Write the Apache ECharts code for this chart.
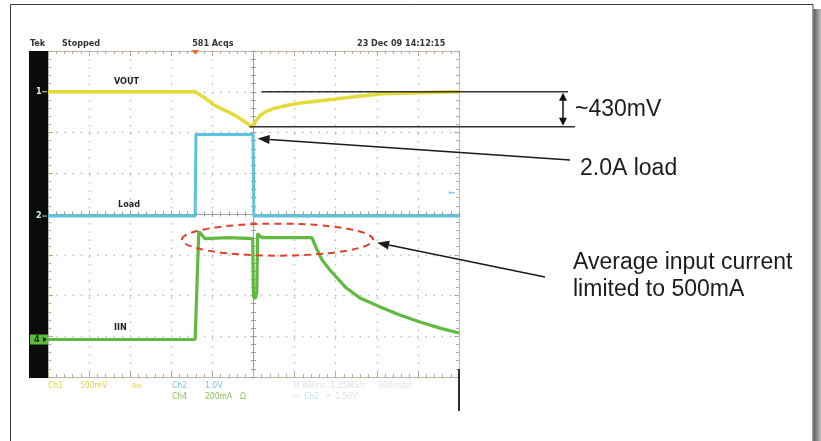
<!DOCTYPE html>
<html>
<head>
<meta charset="utf-8">
<script src="https://cdn.jsdelivr.net/npm/echarts@6/dist/echarts.min.js"></script>
<style>
  html, body { margin: 0; padding: 0; background: #ffffff; }
  #scope { width: 821px; height: 441px; }
</style>
</head>
<body>
<div id="scope"></div>
<script>
// Time in horizontal divisions, measured from the screen centre (10 divisions wide)
const voutTime = [-5, -1.42, -1.2, -1.0, -0.8, -0.6, -0.4, -0.2, -0.04, 0.05, 0.16, 0.3, 0.47, 0.7, 0.89, 1.2, 1.62, 2.0, 2.35, 2.8, 3.15, 3.98, 4.5, 5];
// Ch1 output voltage deviation, mV
const voutMilliVolts = [0, 0, -70, -150, -205, -250, -305, -370, -430, -360, -290, -245, -209, -180, -160, -135, -110, -88, -67, -42, -25, -12, -5, 0];

const loadTime = [-5, -1.42, -1.40, -0.01, 0.01, 5];
// Ch2 load step, V (probe scaled 1 V per A)
const loadVolts = [0, 0, 2.0, 2.0, 0, 0];

const iinTime = [-5, -1.42, -1.37, -1.33, -1.30, -1.18, -0.6, -0.02, 0.0, 0.04, 0.08, 0.10, 0.16, 0.25, 0.8, 1.42, 1.55, 1.67, 1.86, 2.23, 2.59, 3.08, 3.56, 4.05, 4.54, 5];
// Ch4 input current, mA
const iinMilliAmps = [0, 0, 300, 530, 530, 495, 500, 495, 210, 200, 230, 520, 505, 500, 500, 500, 439, 390, 341, 258, 204, 160, 120, 86, 56, 32];

// Channel scale (units per division) and marker position (divisions from centre)
const CH1 = { perDiv: 500, offset: 3.0 };
const CH2 = { perDiv: 1.0, offset: -0.05 };
const CH4 = { perDiv: 200, offset: -3.08 };

const headerTexts = ['Tek', 'Stopped', '581 Acqs', '23 Dec 09 14:12:15'];
const traceNames = ['VOUT', 'Load', 'IIN'];
const dipLabel = '~430mV';
const loadLabel = '2.0A load';
const limitLabel = ['Average input current', 'limited to 500mA'];
const iinLimit = 500;

const toDiv = (ch, v) => ch.offset + v / ch.perDiv;
const pairs = (ts, vs, ch) => ts.map((t, i) => [t, toDiv(ch, vs[i])]);

const chart = echarts.init(document.getElementById('scope'), null, { renderer: 'canvas' });

const edgeLine = '#c3b7aa';
const tickCol = '#b5a99c';
function axis(extra) {
  return Object.assign({
    type: 'value',
    interval: 1,
    axisLabel: { show: false },
    splitLine: { show: false },
    axisLine: { show: true, onZero: false, lineStyle: { color: edgeLine, width: 1 } },
    axisTick: { show: true, inside: true, length: 5, lineStyle: { color: tickCol } },
    minorTick: { show: true, splitNumber: 5, length: 3, lineStyle: { color: tickCol } }
  }, extra);
}
const dotted = { show: true, lineStyle: { color: '#b4b4b4', width: 1.3, type: [1.4, 6.8] } };
const centreLine = { show: true, onZero: true, onZeroAxisIndex: 0, lineStyle: { color: '#9d9d9d', width: 1 } };
const centreTick = { show: true, inside: false, length: 3, lineStyle: { color: '#9d9d9d' } };
const centreMinor = { show: true, splitNumber: 5, length: 2.5, lineStyle: { color: '#9d9d9d' } };

const xr = { min: -5, max: 5 };
const yr = { min: -4, max: 4 };

const lineSeries = (name, data, color, width) => ({
  name, type: 'line', data, showSymbol: false, silent: true, animation: false,
  lineStyle: { color, width }, itemStyle: { color }, z: 5, emphasis: { disabled: true }
});

chart.setOption({
  animation: false,
  backgroundColor: '#ffffff',
  grid: { left: 48, right: 362, top: 51, bottom: 64, containLabel: false, outerBoundsMode: 'none' },
  xAxis: [
    axis(Object.assign({ position: 'bottom', splitLine: dotted }, xr)),
    axis(Object.assign({ position: 'top' }, xr)),
    axis(Object.assign({ position: 'bottom', axisLine: centreLine, axisTick: centreTick, minorTick: centreMinor }, xr)),
    axis(Object.assign({ position: 'top', axisLine: centreLine, axisTick: centreTick, minorTick: centreMinor }, xr))
  ],
  yAxis: [
    axis(Object.assign({ position: 'left', splitLine: dotted }, yr)),
    axis(Object.assign({ position: 'right' }, yr)),
    axis(Object.assign({ position: 'left', axisLine: centreLine, axisTick: centreTick, minorTick: centreMinor }, yr)),
    axis(Object.assign({ position: 'right', axisLine: centreLine, axisTick: centreTick, minorTick: centreMinor }, yr))
  ],
  series: [
    lineSeries(traceNames[1], pairs(loadTime, loadVolts, CH2), '#5cc3dd', 3),
    lineSeries(traceNames[2], pairs(iinTime, iinMilliAmps, CH4), '#62b942', 3.2),
    lineSeries(traceNames[0], pairs(voutTime, voutMilliVolts, CH1), '#e3db3a', 3.5)
  ]
});

const px = (t, d) => chart.convertToPixel({ xAxisIndex: 0, yAxisIndex: 0 }, [t, d]);

// Graticule frame in pixels
const cornerTL = px(-5, 4), cornerBR = px(5, -4);
const gLeft = cornerTL[0], gTop = cornerTL[1], gRight = cornerBR[0], gBottom = cornerBR[1];

const small = (text, x, y, color, extra) => ({
  type: 'text', x, y, silent: true, z: 10,
  style: Object.assign({
    text, fill: color || '#222', font: 'bold 9px "Liberation Sans Narrow", "DejaVu Sans Condensed", Arial, sans-serif',
    verticalAlign: 'middle', align: 'left'
  }, extra || {})
});
const big = (text, x, y) => ({
  type: 'text', x, y, silent: true, z: 10,
  style: { text, fill: '#1c1c1c', font: '23px "Liberation Sans", Arial, sans-serif', verticalAlign: 'middle', align: 'left' }
});
function arrow(x1, y1, x2, y2, head, half, color, width) {
  const dx = x2 - x1, dy = y2 - y1, len = Math.hypot(dx, dy);
  const ux = dx / len, uy = dy / len;
  const bx = x2 - ux * head, by = y2 - uy * head;
  return [
    { type: 'line', silent: true, z: 10, shape: { x1, y1, x2: bx, y2: by }, style: { stroke: color, lineWidth: width } },
    { type: 'polygon', silent: true, z: 10, shape: { points: [[x2, y2], [bx - uy * half, by + ux * half], [bx + uy * half, by - ux * half]] }, style: { fill: color } }
  ];
}

const g = [];
// page frame and drop shadow
g.push({ type: 'rect', silent: true, z: 1, shape: { x: 10.5, y: 4.5, width: 802.5, height: 460 }, style: { fill: null, stroke: '#3c3c3c', lineWidth: 1 } });
g.push({ type: 'rect', silent: true, z: 1, shape: { x: 813.5, y: 9, width: 7.5, height: 432 },
  style: { fill: new echarts.graphic.LinearGradient(0, 0, 1, 0, [{ offset: 0, color: '#5c5c5c' }, { offset: 1, color: '#bdbdbd' }]) } });

// channel marker strip
g.push({ type: 'rect', silent: true, z: 2, shape: { x: gLeft - 19, y: gTop, width: 19, height: gBottom - gTop + 1 }, style: { fill: '#0b0b0b' } });
const m1 = px(-5, CH1.offset)[1], m2 = px(-5, CH2.offset)[1], m4 = px(-5, CH4.offset)[1];
g.push(small('1', gLeft - 12, m1, '#f4f1c8'));
g.push({ type: 'line', silent: true, z: 10, shape: { x1: gLeft - 6, y1: m1, x2: gLeft - 1, y2: m1 }, style: { stroke: '#e8e49a', lineWidth: 1 } });
g.push(small('2', gLeft - 12, m2, '#d8f0f8'));
g.push({ type: 'line', silent: true, z: 10, shape: { x1: gLeft - 6, y1: m2, x2: gLeft - 1, y2: m2 }, style: { stroke: '#a8dcec', lineWidth: 1 } });
g.push({ type: 'rect', silent: true, z: 9, shape: { x: gLeft - 18, y: m4 - 5, width: 18, height: 10 }, style: { fill: '#5fb83c' } });
g.push(small('4', gLeft - 14, m4, '#10300a'));
g.push({ type: 'polygon', silent: true, z: 10, shape: { points: [[gLeft - 1, m4], [gLeft - 5, m4 - 2.5], [gLeft - 5, m4 + 2.5]] }, style: { fill: '#10300a' } });

// header line
g.push(small(headerTexts[0], gLeft - 18, gTop - 7, '#333'));
g.push(small(headerTexts[1], gLeft + 14, gTop - 7, '#333'));
g.push(small(headerTexts[2], px(-1.42, 0)[0] - 3, gTop - 7, '#333'));
g.push(small(headerTexts[3], gLeft + 309, gTop - 7, '#333'));
const trig = px(-1.42, 4);
g.push({ type: 'polygon', silent: true, z: 10, shape: { points: [[trig[0] - 4, gTop - 1], [trig[0] + 4, gTop - 1], [trig[0], gTop + 3.5]] }, style: { fill: '#e8702a' } });

// trace labels
g.push(small(traceNames[0], gLeft + 66, px(0, CH1.offset)[1] - 10, '#222'));
g.push(small(traceNames[1], gLeft + 70, px(0, CH2.offset)[1] - 11, '#222'));
g.push(small(traceNames[2], gLeft + 66, px(0, CH4.offset)[1] - 12, '#222'));

// right-hand reference marker
const refY = px(5, 0.52)[1];
g.push({ type: 'line', silent: true, z: 10, shape: { x1: gRight - 10, y1: refY, x2: gRight - 4, y2: refY }, style: { stroke: '#7cc8e2', lineWidth: 1.2 } });
g.push({ type: 'circle', silent: true, z: 10, shape: { cx: gRight - 9, cy: refY, r: 1.4 }, style: { fill: '#7cc8e2' } });

// readout rows
const r1 = gBottom + 9, r2 = gBottom + 20;
const ro = { font: '8.5px "Liberation Sans Narrow", "DejaVu Sans Condensed", Arial, sans-serif' };
g.push(small('Ch1', gLeft, r1, '#e2d64c', ro));
g.push(small('500mV', gLeft + 32, r1, '#e2d64c', ro));
g.push(small('Bw', gLeft + 84, r1, '#e2d64c', { font: '6.5px "Liberation Sans Narrow", Arial, sans-serif' }));
g.push(small('Ch2', gLeft + 124, r1, '#7cc4e6', ro));
g.push(small('1.0V', gLeft + 157, r1, '#7cc4e6', ro));
g.push(small('Ch4', gLeft + 124, r2, '#86c45a', ro));
g.push(small('200mA', gLeft + 157, r2, '#86c45a', ro));
g.push(small('Ω', gLeft + 192, r2, '#86c45a', ro));
g.push(small('M 800ns  1.25MS/s', gLeft + 245, r1, '#e2e2e2', ro));
g.push(small('800ns/pt', gLeft + 330, r1, '#e2e2e2', ro));
g.push(small('→', gLeft + 245, r2, '#e2e2e2', ro));
g.push(small('Ch2', gLeft + 256, r2, '#c4e2f0', ro));
g.push(small('↗  1.56V', gLeft + 276, r2, '#e2e2e2', ro));
g.push({ type: 'line', silent: true, z: 10, shape: { x1: gRight, y1: gBottom - 8, x2: gRight, y2: gBottom + 34 }, style: { stroke: '#2e2e2e', lineWidth: 2 } });

// output dip annotation
const vMin = Math.min.apply(null, voutMilliVolts);
const yTop = px(0, toDiv(CH1, 0))[1];
const yDip = px(0, toDiv(CH1, vMin))[1];
g.push({ type: 'line', silent: true, z: 10, shape: { x1: px(0.2, 0)[0], y1: yTop, x2: 568, y2: yTop }, style: { stroke: '#333', lineWidth: 1.5 } });
g.push({ type: 'line', silent: true, z: 10, shape: { x1: px(-0.1, 0)[0], y1: yDip, x2: 575, y2: yDip }, style: { stroke: '#333', lineWidth: 1.5 } });
const ax = 563;
g.push({ type: 'line', silent: true, z: 10, shape: { x1: ax, y1: yTop + 7, x2: ax, y2: yDip - 7 }, style: { stroke: '#111', lineWidth: 1.5 } });
g.push({ type: 'polygon', silent: true, z: 10, shape: { points: [[ax, yTop + 1], [ax - 4, yTop + 9], [ax + 4, yTop + 9]] }, style: { fill: '#111' } });
g.push({ type: 'polygon', silent: true, z: 10, shape: { points: [[ax, yDip - 1], [ax - 4, yDip - 9], [ax + 4, yDip - 9]] }, style: { fill: '#111' } });
g.push(big(dipLabel, 575, (yTop + yDip) / 2));

// load step annotation
const loadTip = px(0.1, toDiv(CH2, 1.9));
g.push.apply(g, arrow(570, 160, loadTip[0], loadTip[1], 12, 4.5, '#1a1a1a', 1.5));
g.push(big(loadLabel, 580, 168.5));

// current limit annotation
const eL = px(-1.74, 0)[0], eR = px(2.91, 0)[0];
const eY = px(0, toDiv(CH4, iinLimit))[1] + 2;
g.push({ type: 'ellipse', silent: true, z: 10, shape: { cx: (eL + eR) / 2, cy: eY, rx: (eR - eL) / 2, ry: 16 },
  style: { fill: null, stroke: '#e0402c', lineWidth: 2, lineDash: [7, 5] } });
g.push.apply(g, arrow(545, 277, eR + 4, eY + 3, 12, 4.5, '#1a1a1a', 1.5));
g.push(big(limitLabel[0], 573, 262.5));
g.push(big(limitLabel[1], 573, 289.5));

chart.setOption({ graphic: { elements: g } });
</script>
</body>
</html>
